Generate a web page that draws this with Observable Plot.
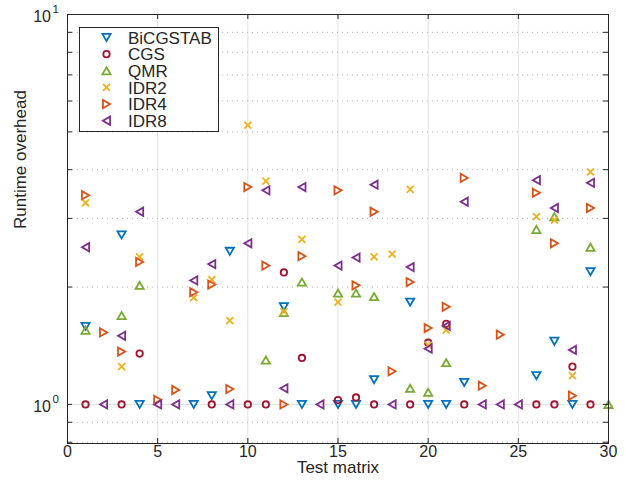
<!DOCTYPE html>
<html><head><meta charset="utf-8">
<script src="https://cdn.jsdelivr.net/npm/d3@7"></script>
<script src="https://cdn.jsdelivr.net/npm/@observablehq/plot@0.6"></script>
<style>
body{margin:0;background:#fff;}
#wrap{position:relative;width:626px;height:482px;}
#legend{position:absolute;left:79px;top:27px;}
</style></head><body><div id="wrap"></div>
<script>
// ---- data ----
const matrices = [1,2,3,4,5,6,7,8,9,10,11,12,13,14,15,16,17,18,19,20,21,22,23,24,25,26,27,28,29,30];
const methods = ["BiCGSTAB","CGS","QMR","IDR2","IDR4","IDR8"];
const colors = ["#0072BD","#A2142F","#77AC30","#EDB120","#D95319","#7E2F8E"];
//                 1     2     3     4     5     6     7     8     9     10    11    12    13    14    15    16    17    18    19    20    21    22    23    24    25    26    27    28    29    30
const bicgstab = [1.585,null,2.72, 1.0,  null, null, 1.0,  1.053,2.47, null, null, 1.78, 1.0,  null, 1.0,  1.0,  1.157,null, 1.83, 1.0,  1.0,  1.139,null, null, null, 1.185,1.452,1.0,  2.19, null];
const cgs      = [1.0,  null,1.0,  1.35, null, null, null, 1.0,  null, 1.0,  1.0,  2.18, 1.316,null, 1.026,1.042,1.0,  null, 1.0,  1.44, 1.61, 1.0,  null, null, null, 1.0,  1.0,  1.25, 1.0,  null];
const qmr      = [1.55, null,1.69, 2.02, null, null, null, null, null, null, 1.30, 1.72, 2.06, null, 1.93, 1.93, 1.89, null, 1.10, 1.074,1.28, null, null, null, null, 2.81, 3.03, null, 2.53, 1.0];
const idr2     = [3.29, null,1.25, 2.39, null, null, 1.88, 2.09, 1.64, 5.2,  3.74, 1.73, 2.65, null, 1.83, null, 2.39, 2.43, 3.56, 1.42, 1.55, null, null, null, null, 3.03, 2.97, 1.185,3.95, null];
const idr4     = [3.44, 1.53,1.366,2.32, 1.028,1.089,1.94, 2.03, 1.095,3.61, 2.27, 1.0,  2.40, null, 3.54, 2.02, 3.12, 1.216,2.06, 1.57, 1.78, 3.81, 1.117,1.51, null, 3.49, 2.59, 1.053,3.19, null];
const idr8     = [2.53, 1.0, 1.50, 3.12, 1.0,  1.0,  2.08, 2.29, 1.0,  2.59, 3.54, 1.10, 3.61, 1.0,  2.27, 2.38, 3.66, 1.0,  2.25, 1.39, 1.59, 3.31, 1.0,  1.0,  1.0,  3.76, 3.19, 1.38, 3.70, null];
const xTicks = [0,5,10,15,20,25,30];
const yMajor = [1,10];
const yMinor = [0.8,0.9,2,3,4,5,6,7,8,9];
const yLabels = ["10","10"];
const yExponents = ["0","1"];

// ---- symbols ----
const triDown = {draw(c,s){const r=Math.sqrt(s/Math.PI),w=r,h=0.87*r;c.moveTo(-w,-h);c.lineTo(w,-h);c.lineTo(0,h);c.closePath();}};
const triUp   = {draw(c,s){const r=Math.sqrt(s/Math.PI),w=r,h=0.87*r;c.moveTo(-w,h);c.lineTo(w,h);c.lineTo(0,-h);c.closePath();}};
const triRight= {draw(c,s){const r=Math.sqrt(s/Math.PI),w=r,h=0.87*r;c.moveTo(-h,-w);c.lineTo(h,0);c.lineTo(-h,w);c.closePath();}};
const triLeft = {draw(c,s){const r=Math.sqrt(s/Math.PI),w=r,h=0.87*r;c.moveTo(h,-w);c.lineTo(-h,0);c.lineTo(h,w);c.closePath();}};
const circ    = {draw(c,s){const r=0.78*Math.sqrt(s/Math.PI);c.moveTo(r,0);c.arc(0,0,r,0,2*Math.PI);c.closePath();}};
const times   = {draw(c,s){const r=0.85*Math.sqrt(s/Math.PI);c.moveTo(-r,-r);c.lineTo(r,r);c.moveTo(-r,r);c.lineTo(r,-r);}};
const symbols = [triDown,circ,triUp,times,triRight,triLeft];
const seriesValues = [bicgstab,cgs,qmr,idr2,idr4,idr8];

const yLo = 0.794, yHi = 10;
const allY = [...yMinor, ...yMajor];
const axisColor = "#262626";

const dotMarks = methods.map((m,i) => Plot.dot(
  matrices.map((x,j)=>({x, v: seriesValues[i][j]})).filter(d=>d.v!=null),
  {x:"x", y:"v", symbol: symbols[i], r:4.1, stroke: colors[i], strokeWidth:1.8, fill:"none"}));

const plot = Plot.plot({
  width:626, height:482,
  marginLeft:67, marginRight:18, marginTop:14, marginBottom:39,
  x:{domain:[0,30], axis:null},
  y:{type:"log", domain:[yLo,yHi], axis:null},
  style:{fontFamily:"'Liberation Sans', Arial, sans-serif", fontSize:"16px", color:axisColor, background:"white"},
  marks:[
    Plot.ruleX(xTicks.slice(1,-1), {x:d=>d, stroke:"#e2e2e2", strokeWidth:1}),
    Plot.ruleY(yMinor, {y:d=>d, stroke:"#b5b5b5", strokeWidth:1, strokeDasharray:"1,4"}),
    Plot.ruleY(yMajor, {y:d=>d, stroke:"#e2e2e2", strokeWidth:1}),
    ...dotMarks,
    Plot.ruleY(allY, {y:d=>d, x1:0, x2:0.28, stroke:axisColor}),
    Plot.ruleY(allY, {y:d=>d, x1:29.72, x2:30, stroke:axisColor}),
    Plot.ruleX(xTicks, {x:d=>d, y1:yLo, y2:yLo*1.03, stroke:axisColor}),
    Plot.ruleX(xTicks, {x:d=>d, y1:yHi/1.03, y2:yHi, stroke:axisColor}),
    Plot.frame({stroke:axisColor, strokeWidth:1}),
    Plot.text(xTicks, {x:d=>d, frameAnchor:"bottom", dy:13, text:d=>String(d), fontSize:16}),
    Plot.text(yMajor, {x:0, y:d=>d, text:(d,i)=>yLabels[i], textAnchor:"end", dx:-16.5, dy:2, fontSize:16}),
    Plot.text(yMajor, {x:0, y:d=>d, text:(d,i)=>yExponents[i], textAnchor:"start", dx:-15, dy:-5, fontSize:11.5}),
    Plot.text(["Test matrix"], {frameAnchor:"bottom", dy:29, fontSize:17}),
    Plot.text(["Runtime overhead"], {frameAnchor:"left", dx:-47, rotate:-90, fontSize:17})
  ]
});
document.getElementById("wrap").appendChild(plot);

// ---- legend ----
const lw = 140, lh = 105;
const leg = d3.select("#wrap").append("svg").attr("id","legend").attr("width",lw).attr("height",lh)
  .style("font-family","'Liberation Sans', Arial, sans-serif");
leg.append("rect").attr("x",0.5).attr("y",0.5).attr("width",lw-1).attr("height",lh-1)
  .attr("fill","white").attr("stroke",axisColor).attr("stroke-width",1);
methods.forEach((m,i)=>{
  const cy = 10.5 + 16.65*i;
  leg.append("path").attr("transform",`translate(27.5,${cy})`)
    .attr("d", d3.symbol().type(symbols[i]).size(Math.PI*4.1*4.1)())
    .attr("fill","none").attr("stroke",colors[i]).attr("stroke-width",1.8);
  leg.append("text").attr("x",49).attr("y",cy).attr("dy","0.36em")
    .attr("font-size",17).attr("fill",axisColor).text(m);
});
</script></body></html>
